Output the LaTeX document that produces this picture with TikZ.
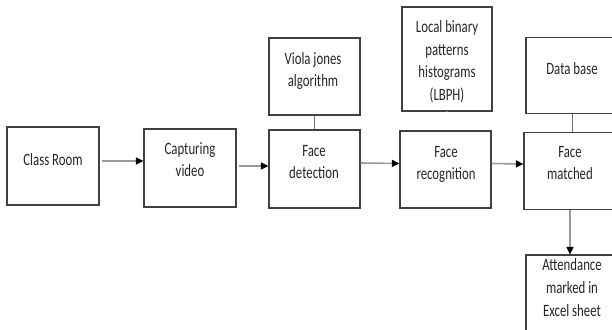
\documentclass[tikz,border=0pt]{standalone}
\usepackage{fontspec}
\setmainfont{Carlito}
\usetikzlibrary{arrows.meta}
\newcommand{\tx}[1]{\scalebox{1}[1.35]{\begin{tabular}{@{}c@{}}#1\end{tabular}}}
\begin{document}
\begin{tikzpicture}[x=1pt,y=-1pt,
  box/.style={draw=black!75,line width=1.2pt,rectangle,inner sep=0pt},
  txt/.style={text=black!85,inner sep=0pt,font=\fontsize{12.8}{16.7}\selectfont},
  arr/.style={draw=black!40,line width=1.6pt,-{Triangle[length=7.5pt,width=7pt,color=black]}},
  lnk/.style={draw=black!55,line width=0.9pt}]
\useasboundingbox (0,0) rectangle (612,329);
\clip (0,0) rectangle (612,329);
\fill[white] (0,0) rectangle (612,329);
% boxes
\node[box,minimum width=92pt,minimum height=78pt] (room) at (53,166) {};
\node[box,minimum width=92pt,minimum height=78pt] (cap) at (190,168) {};
\node[box,minimum width=91pt,minimum height=78pt] (det) at (314.5,169) {};
\node[box,minimum width=91pt,minimum height=77pt] (viola) at (314.5,76.5) {};
\node[box,minimum width=91pt,minimum height=77pt] (rec) at (445.5,169.5) {};
\node[box,minimum width=90pt,minimum height=104pt] (lbph) at (447,59) {};
\node[box,minimum width=92pt,minimum height=77pt] (match) at (570,171) {};
\node[box,minimum width=92pt,minimum height=76pt] (db) at (572,75.5) {};
\node[box,minimum width=92pt,minimum height=82pt] (att) at (572,296) {};
% texts
\node[txt] (roomt) at (53,161) {\tx{Class Room}};
\node[txt] (capt) at (190,161) {\tx{Capturing\\video}};
\node[txt] (detl) at (314,163) {\tx{Face\\detection}};
\node[txt] (violat) at (313,71) {\tx{Viola jones\\algorithm}};
\node[txt] (rect) at (446,164) {\tx{Face\\recognition}};
\node[txt] (lbpht) at (447,62) {\tx{Local binary\\patterns\\histograms\\(LBPH)}};
\node[txt] (matcht) at (570,164) {\tx{Face\\matched}};
\node[txt] (dbt) at (572,70) {\tx{Data base}};
\node[txt] (attt) at (572,289) {\tx{Attendance\\marked in\\Excel sheet}};
% connectors
\draw[arr,shorten <=2pt] ([yshift=5pt]room.east) -- ([yshift=7pt]cap.west);
\draw[arr,shorten <=2pt] ([yshift=2pt]cap.east) -- ([yshift=3pt]det.west);
\draw[arr] ([yshift=6pt]det.east) -- ([yshift=6pt]rec.west);
\draw[arr] ([yshift=6pt]rec.east) -- ([yshift=7pt]match.west);
\draw[arr] (match.south) -- (match.south |- att.north);
\draw[lnk] (viola.south) -- (det.north);
\draw[lnk] ([xshift=1pt]lbph.south) -- (lbph.south -| rec.north);
\draw[lnk] (db.south) -- (db.south |- match.north);
\end{tikzpicture}
\end{document}
